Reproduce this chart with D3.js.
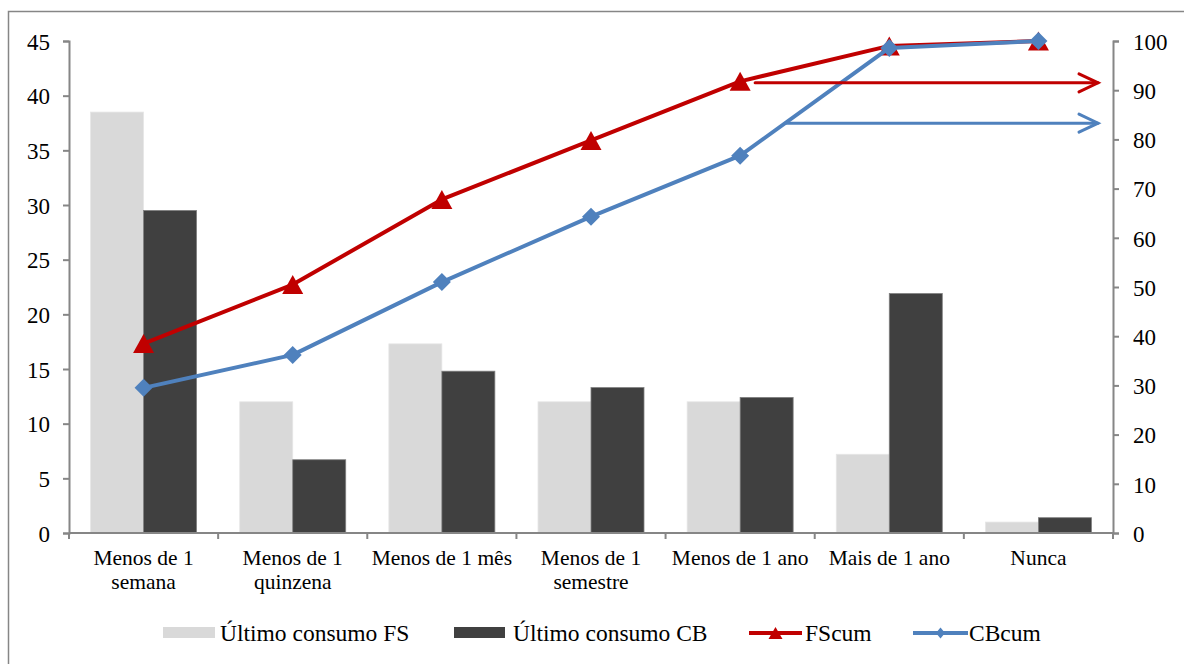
<!DOCTYPE html>
<html>
<head>
<meta charset="utf-8">
<script src="https://cdn.jsdelivr.net/npm/d3@7"></script>
<style>
html,body{margin:0;padding:0;background:#fff;}
svg{display:block;font-family:"Liberation Serif","Times New Roman",serif;}
</style>
</head>
<body>
<svg id="chart" width="1184" height="664"></svg>
<script>
const categories = [["Menos de 1","semana"],["Menos de 1","quinzena"],["Menos de 1 mês"],["Menos de 1","semestre"],["Menos de 1 ano"],["Mais de 1 ano"],["Nunca"]];
const fsValues = [38.5, 12.0, 17.3, 12.0, 12.0, 7.2, 1.0];
const cbValues = [29.5, 6.7, 14.8, 13.3, 12.4, 21.9, 1.4];
const fsCum = [38.5, 50.5, 67.8, 79.8, 91.8, 99.0, 100];
const cbCum = [29.5, 36.2, 51.0, 64.3, 76.7, 98.6, 100];
const leftTicks = [0, 5, 10, 15, 20, 25, 30, 35, 40, 45];
const rightTicks = [0, 10, 20, 30, 40, 50, 60, 70, 80, 90, 100];
const arrowValues = [91.5, 83.3]; // red (FScum), blue (CBcum) on right axis
const seriesNames = ["Último consumo FS", "Último consumo CB", "FScum", "CBcum"];

const colFS = "#d9d9d9", colCB = "#404040", colRed = "#c00000", colBlue = "#4f81bd", axisCol = "#868686";

const svg = d3.select("#chart");
const L = 69, R = 1113, T = 41, B = 533;

svg.append("rect").attr("x", 8.5).attr("y", 11.5).attr("width", 1200).attr("height", 700)
  .attr("fill", "none").attr("stroke", axisCol).attr("stroke-width", 1.5);

const idx = categories.map((c, i) => i);
const x = d3.scaleBand().domain(idx).range([L, R]).padding(0);
const x1 = d3.scaleBand().domain([0, 1]).range([0, x.bandwidth()]).paddingInner(0).paddingOuter(0.407);
const yL = d3.scaleLinear().domain([0, 45]).range([B, T]);
const yR = d3.scaleLinear().domain([0, 100]).range([B, T]);
const cx = i => x(i) + x.bandwidth() / 2;

// bars
const g = svg.append("g");
[fsValues, cbValues].forEach((vals, s) => {
  g.selectAll(null).data(vals).enter().append("rect")
    .attr("x", (d, i) => x(i) + x1(s))
    .attr("y", d => yL(d))
    .attr("width", x1.bandwidth())
    .attr("height", d => B - yL(d))
    .attr("fill", s === 0 ? colFS : colCB)
    .attr("stroke", s === 0 ? "#e6e6e6" : "#7f7f7f")
    .attr("stroke-width", 0.8);
});

// axes
const axL = d3.axisLeft(yL).tickValues(leftTicks).tickSize(6).tickSizeOuter(6).tickPadding(13);
const axR = d3.axisRight(yR).tickValues(rightTicks).tickSize(6).tickSizeOuter(6).tickPadding(14);
const gl = svg.append("g").attr("transform", `translate(${L},0)`).call(axL);
const gr = svg.append("g").attr("transform", `translate(${R},0)`).call(axR);
[gl, gr].forEach(a => {
  a.attr("font-family", null);
  a.selectAll("path,line").attr("stroke", axisCol).attr("stroke-width", 2);
  a.selectAll("text").attr("font-size", 23).attr("fill", "#000").attr("dy", "0.36em");
});

// bottom axis
const gb = svg.append("g");
gb.append("line").attr("x1", L).attr("x2", R).attr("y1", B).attr("y2", B).attr("stroke", axisCol).attr("stroke-width", 2);
gb.selectAll("line.t").data(d3.range(categories.length + 1)).enter().append("line")
  .attr("x1", d => L + d * x.bandwidth()).attr("x2", d => L + d * x.bandwidth())
  .attr("y1", B).attr("y2", B + 6).attr("stroke", axisCol).attr("stroke-width", 2);
categories.forEach((lines, i) => {
  const t = gb.append("text").attr("text-anchor", "middle").attr("font-size", 21.5).attr("fill", "#000");
  lines.forEach((ln, k) => t.append("tspan").attr("x", cx(i)).attr("y", 565 + k * 23.5).text(ln));
});

// lines
const triPath = (w, h) => `M0,${-h/2}L${w/2},${h/2}L${-w/2},${h/2}Z`;
const diaPath = (w, h) => `M0,${-h/2}L${w/2},0L0,${h/2}L${-w/2},0Z`;
const lineGen = d3.line().x((d, i) => cx(i)).y(d => yR(d));

svg.append("path").datum(fsCum).attr("d", lineGen).attr("fill", "none").attr("stroke", colRed).attr("stroke-width", 4).attr("stroke-linejoin", "round");
svg.selectAll("path.tri").data(fsCum).enter().append("path").attr("class", "tri")
  .attr("d", triPath(21, 19)).attr("transform", (d, i) => `translate(${cx(i)},${yR(d)})`).attr("fill", colRed);

svg.append("path").datum(cbCum).attr("d", lineGen).attr("fill", "none").attr("stroke", colBlue).attr("stroke-width", 4).attr("stroke-linejoin", "round");
svg.selectAll("path.dia").data(cbCum).enter().append("path").attr("class", "dia")
  .attr("d", diaPath(18, 18)).attr("transform", (d, i) => `translate(${cx(i)},${yR(d)})`).attr("fill", colBlue);

// arrows
const arrowEndX = R - 15;
function arrow(x0, yv, col) {
  const yy = yR(yv);
  const ag = svg.append("g").attr("stroke", col).attr("stroke-width", 3).attr("fill", "none").attr("stroke-linecap", "round");
  ag.append("line").attr("x1", x0).attr("x2", arrowEndX).attr("y1", yy).attr("y2", yy);
  ag.append("path").attr("d", `M${arrowEndX - 19},${yy - 9}L${arrowEndX},${yy}L${arrowEndX - 19},${yy + 9}`).attr("stroke-linejoin", "miter");
}
arrow(cx(4) + 15, arrowValues[0], colRed);
// blue arrow starts where CBcum line crosses the arrow value
const t = (arrowValues[1] - cbCum[4]) / (cbCum[5] - cbCum[4]);
arrow(cx(4) + t * (cx(5) - cx(4)), arrowValues[1], colBlue);

// legend
const lg = svg.append("g").attr("font-size", 23.5);
const ly = 633;
lg.append("rect").attr("x", 163).attr("y", ly - 6).attr("width", 52).attr("height", 11).attr("fill", colFS);
lg.append("text").attr("x", 220).attr("y", ly + 8).text(seriesNames[0]);
lg.append("rect").attr("x", 454).attr("y", ly - 6).attr("width", 51).attr("height", 11).attr("fill", colCB);
lg.append("text").attr("x", 513).attr("y", ly + 8).text(seriesNames[1]);
lg.append("line").attr("x1", 749).attr("x2", 802).attr("y1", ly).attr("y2", ly).attr("stroke", colRed).attr("stroke-width", 4);
lg.append("path").attr("d", triPath(14, 12)).attr("transform", `translate(775.5,${ly})`).attr("fill", colRed);
lg.append("text").attr("x", 805).attr("y", ly + 8).text(seriesNames[2]);
lg.append("line").attr("x1", 913).attr("x2", 968).attr("y1", ly).attr("y2", ly).attr("stroke", colBlue).attr("stroke-width", 4);
lg.append("path").attr("d", diaPath(9, 11)).attr("transform", `translate(940.5,${ly})`).attr("fill", colBlue);
lg.append("text").attr("x", 969).attr("y", ly + 8).text(seriesNames[3]);
</script>
</body>
</html>
